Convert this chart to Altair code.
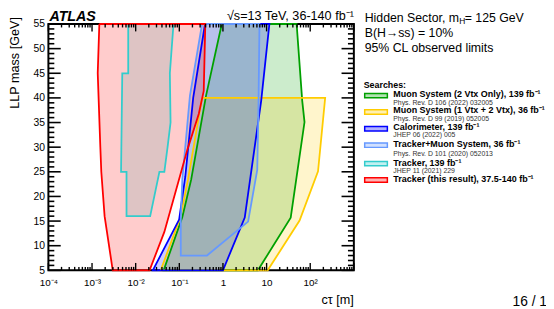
import altair as alt
import pandas as pd

FONT = "Liberation Sans"

# ---- excluded regions: polygon vertices (c*tau [m], LLP mass [GeV]) in drawing order ----
green_ct = [0.94, 0.409, 0.187, 0.117, 0.0437, 6.32, 35.7, 74.0, 65.6, 48.8]
green_mass = [55, 40.4, 23.4, 15.8, 5, 5, 15.7, 35.1, 39.4, 55]

yellow_ct = [0.332, 220, 151, 57, 10.6, 0.0374, 0.106, 0.158]
yellow_mass = [40, 40, 25.1, 15.1, 5, 5, 15.8, 23.4]

blue_ct = [0.388, 0.208, 0.137, 0.0991, 0.0247, 1.0, 3.16, 7.52, 11.6]
blue_mass = [55, 40, 24, 15.3, 5, 5, 15.7, 39.4, 55]

lblue_ct = [0.332, 0.175, 0.117, 0.108, 0.108, 0.431, 3.77, 6.11, 6.53, 6.87]
lblue_mass = [55, 40.4, 23.4, 15.2, 8, 8, 14.9, 25.4, 38.4, 55]

cyan_ct = [6.75e-3, 6.75e-3, 4.93e-3, 4.62e-3, 6.17e-3, 6.17e-3, 0.0215, 0.035,
           0.0454, 0.0538, 0.063, 0.0607, 0.0736]
cyan_mass = [55, 45, 45, 25, 25, 16, 16, 25, 25, 30, 35, 45, 55]

red_ct = [1.47e-3, 1.35e-3, 1.55e-3, 1.63e-3, 1.94e-3, 2.98e-3, 0.0208, 0.0454,
          0.152, 0.280, 0.363, 0.394]
red_mass = [55, 45, 30, 25, 16, 5, 5, 12.8, 29.4, 36.8, 41.4, 55]

# ---- legend ----
legend_labels = [
    "Muon System (2 Vtx Only), 139 fb⁻¹",
    "Muon System (1 Vtx + 2 Vtx), 36 fb⁻¹",
    "Calorimeter, 139 fb⁻¹",
    "Tracker+Muon System, 36 fb⁻¹",
    "Tracker, 139 fb⁻¹",
    "Tracker (this result), 37.5-140 fb⁻¹",
]
legend_refs = [
    "Phys. Rev. D 106 (2022) 032005",
    "Phys. Rev. D 99 (2019) 052005",
    "JHEP 06 (2022) 005",
    "Phys. Rev. D 101 (2020) 052013",
    "JHEP 11 (2021) 229",
    "",
]
colors = ["#00a000", "#ffcc00", "#0000ff", "#6699ff", "#33cccc", "#ff0000"]
fills = ["#00a000", "#ffcc00", "#0000ff", "#85a6bc", "#33cccc", "#ff0000"]

# ---- axis ticks ----
y_major = list(range(5, 56, 5))
y_minor = [v for v in range(5, 56) if v % 5]
x_major = [10.0 ** k for k in range(-4, 4)]
x_minor = [m * 10.0 ** k for k in range(-4, 3) for m in range(2, 10)]
x_label_values = [10.0 ** k for k in range(-4, 3)]

W, H = 310, 250
xs = alt.Scale(type="log", domain=[1e-4, 1e3], nice=False)
ys = alt.Scale(domain=[5, 55], nice=False, zero=False)

label_expr = ("datum.value < 0.00015 ? '10⁻⁴' : datum.value < 0.0015 ? '10⁻³' : "
              "datum.value < 0.015 ? '10⁻²' : datum.value < 0.15 ? '10⁻¹' : "
              "datum.value < 1.5 ? '1' : datum.value < 15 ? '10' : '10²'")

x_axis = alt.Axis(values=x_label_values, labelExpr=label_expr, ticks=False, tickSize=0,
                  domain=False, grid=False, title=None, labelFont=FONT, labelFontSize=10,
                  labelColor="black", labelBaseline="alphabetic", labelPadding=15,
                  labelFlush=False, labelOverlap=False)
y_axis = alt.Axis(values=y_major, ticks=False, tickSize=0, domain=False, grid=False,
                  title=None, labelFont=FONT, labelFontSize=10.5, labelColor="black",
                  labelPadding=4, labelOverlap=False, labelFlush=False)

polys = [
    (green_ct, green_mass, colors[0], fills[0], 0.2),
    (yellow_ct, yellow_mass, colors[1], fills[1], 0.2),
    (blue_ct, blue_mass, colors[2], fills[2], 0.2),
    (lblue_ct, lblue_mass, colors[3], fills[3], 0.28),
    (cyan_ct, cyan_mass, colors[4], fills[4], 0.2),
    (red_ct, red_mass, colors[5], fills[5], 0.2),
]


def poly_df(ct, mass):
    return pd.DataFrame({"ct": ct + [ct[0]], "mass": mass + [mass[0]],
                         "i": list(range(len(ct) + 1))})


def X(field):
    return alt.X(field, scale=xs, axis=x_axis)


def Y(field):
    return alt.Y(field, scale=ys, axis=y_axis)


layers = []
for ct, mass, c, f, op in polys:
    layers.append(alt.Chart(poly_df(ct, mass)).mark_line(
        fill=f, fillOpacity=op, strokeOpacity=0, strokeWidth=0
    ).encode(x=X("ct:Q"), y=Y("mass:Q"), order=alt.Order("i:Q")))

for ct, mass, c, f, op in polys:
    layers.append(alt.Chart(poly_df(ct, mass)).mark_line(
        color=c, strokeWidth=1.8
    ).encode(x=X("ct:Q"), y=Y("mass:Q"), order=alt.Order("i:Q")))


# inward ticks
def yticks(vals, length):
    d = pd.DataFrame({"mass": vals})
    left = alt.Chart(d).mark_rule(color="black", strokeWidth=1.6).encode(
        y=Y("mass:Q"), x=alt.value(0), x2=alt.value(length))
    right = alt.Chart(d).mark_rule(color="black", strokeWidth=1.6).encode(
        y=Y("mass:Q"), x=alt.value(W), x2=alt.value(W - length))
    return [left, right]


def xticks(vals, length):
    d = pd.DataFrame({"ct": vals})
    bot = alt.Chart(d).mark_rule(color="black", strokeWidth=1.4).encode(
        x=X("ct:Q"), y=alt.value(H), y2=alt.value(H - length))
    top = alt.Chart(d).mark_rule(color="black", strokeWidth=1.4).encode(
        x=X("ct:Q"), y=alt.value(0), y2=alt.value(length))
    return [bot, top]


layers += yticks(y_major, 12.5) + yticks(y_minor, 6)
layers += xticks(x_major, 7.5) + xticks(x_minor, 3.5)

one = pd.DataFrame({"k": [0]})


def txt(s, x, y, size, weight="normal", style="normal", color="black",
        align="left", baseline="alphabetic", angle=0):
    return alt.Chart(one).mark_text(
        text=s, font=FONT, fontSize=size, fontWeight=weight, fontStyle=style,
        color=color, align=align, baseline=baseline, angle=angle
    ).encode(x=alt.value(x), y=alt.value(y))


layers.append(txt("LLP mass [GeV]", -34, -7, 12.8, align="right", baseline="middle", angle=270))
layers.append(txt("cτ [m]", W, 280, 12.8, align="right", baseline="middle"))
layers.append(txt("ATLAS", 1, -3.5, 14.5, weight="bold", style="italic"))
layers.append(txt("√s=13 TeV, 36-140 fb⁻¹", W, -4, 12.8, align="right"))

layers.append(txt("Hidden Sector, m", 321, -2.5, 12.5))
layers.append(txt("H", 417, 0.5, 8.5))
layers.append(txt("= 125 GeV", 482.5, -2.5, 12.5, align="right"))
layers.append(txt("B(H→ss) = 10%", 321, 13, 12.5))
layers.append(txt("95% CL observed limits", 321, 28, 12.5))
layers.append(txt("Searches:", 320, 65, 9, weight="bold"))

sw_center = [72.7, 89.3, 106.3, 123.0, 141.7, 158.3]
lab_base = [74.2, 90.8, 107.6, 124.8, 144.0, 160.5]
ref_base = [81.7, 98.2, 115.0, 134.0, 151.3, 0]
for lab, ref, c, yc, yl, yr in zip(legend_labels, legend_refs, colors, sw_center, lab_base, ref_base):
    layers.append(alt.Chart(one).mark_rect(
        fill=c, fillOpacity=0.3, stroke=c, strokeWidth=1.5
    ).encode(x=alt.value(321), x2=alt.value(344), y=alt.value(yc - 2.2), y2=alt.value(yc + 2.2)))
    layers.append(txt(lab, 350, yl, 9.1, weight="bold"))
    if ref:
        layers.append(txt(ref, 350, yr, 7, color="#333333"))

layers.append(txt("16 / 1", 471, 286.5, 14))

chart = alt.layer(*layers).properties(
    width=W, height=H,
    autosize=alt.AutoSizeParams(type="none"),
    padding={"left": 41, "top": 14, "right": 195, "bottom": 37},
    background="white",
).configure_view(stroke="black", strokeWidth=2)

chart.save("out.html", embed_options={"renderer": "svg", "actions": False})
